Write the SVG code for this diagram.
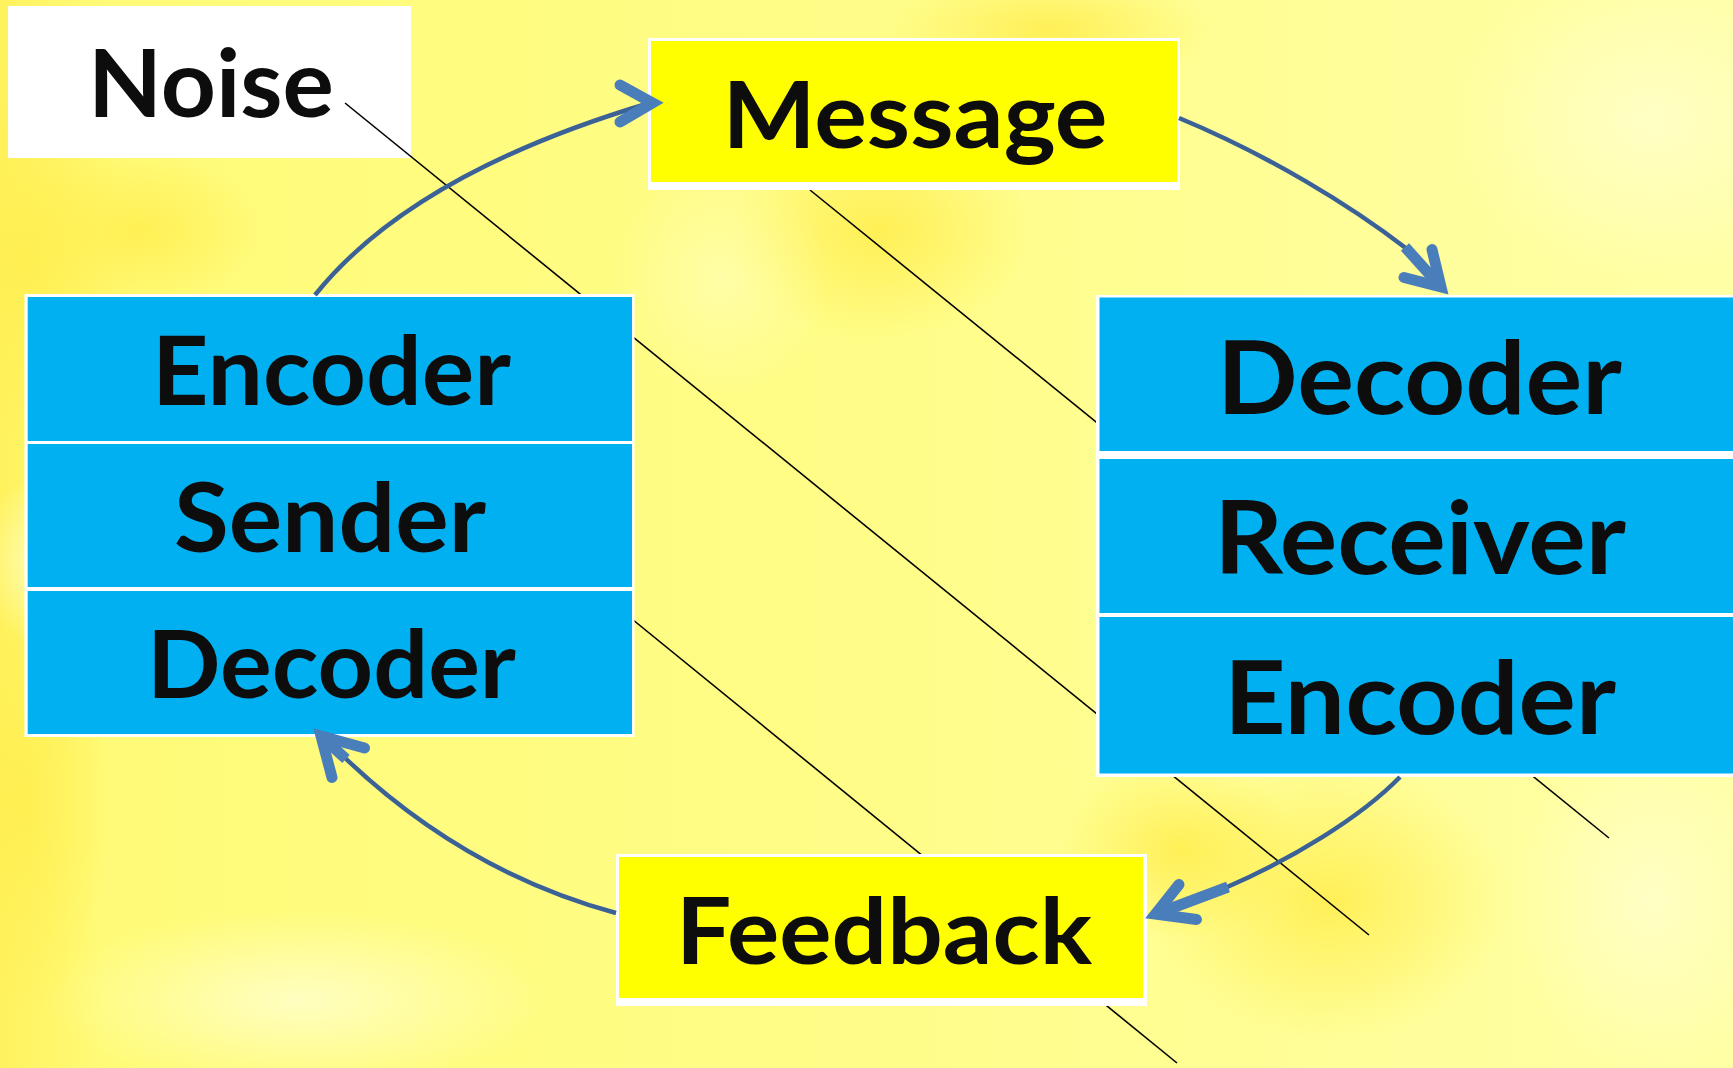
<svg xmlns="http://www.w3.org/2000/svg" width="1733" height="1068" viewBox="0 0 1733 1068">
  <defs>
    <style>
      .lbl { font-family: Lato, "Open Sans", "Liberation Sans", sans-serif; font-weight: bold; fill: #0d0d0d; text-anchor: middle; }
      .cell { fill: #00b0f0; }
      .frame { fill: #ffffff; }
      .note { fill: #ffff00; }
      .noise-line { stroke: #000000; stroke-width: 1.6; fill: none; }
      .shaft { stroke: #3b6296; stroke-width: 4.5; fill: none; }
      .head { stroke: #4a7ebb; stroke-width: 11; fill: none; stroke-linejoin: miter; stroke-miterlimit: 6; stroke-linecap: round; }
      .thick { stroke: #4a7ebb; stroke-width: 11; fill: none; stroke-linecap: butt; }
    </style>
    <radialGradient id="blobDeep" cx="0.5" cy="0.5" r="0.5">
      <stop offset="0" stop-color="#ffee50" stop-opacity="0.9"/>
      <stop offset="1" stop-color="#ffee50" stop-opacity="0"/>
    </radialGradient>
    <radialGradient id="blobPale" cx="0.5" cy="0.5" r="0.5">
      <stop offset="0" stop-color="#ffffc8" stop-opacity="0.9"/>
      <stop offset="1" stop-color="#ffffc8" stop-opacity="0"/>
    </radialGradient>
    <linearGradient id="bgBase" x1="0" y1="0" x2="1" y2="0">
      <stop offset="0" stop-color="#fff25e"/>
      <stop offset="0.06" stop-color="#fffb78"/>
      <stop offset="0.5" stop-color="#fffd88"/>
      <stop offset="1" stop-color="#ffffa6"/>
    </linearGradient>
  </defs>

  <!-- textured yellow backdrop -->
  <g id="background">
    <rect x="0" y="0" width="1733" height="1068" fill="url(#bgBase)"/>
    <ellipse cx="30" cy="260" rx="110" ry="200" fill="url(#blobDeep)"/>
    <ellipse cx="20" cy="800" rx="90" ry="220" fill="url(#blobDeep)"/>
    <ellipse cx="140" cy="230" rx="120" ry="80" fill="url(#blobDeep)"/>
    <ellipse cx="880" cy="230" rx="150" ry="110" fill="url(#blobDeep)"/>
    <ellipse cx="1050" cy="30" rx="160" ry="60" fill="url(#blobDeep)"/>
    <ellipse cx="1330" cy="900" rx="180" ry="140" fill="url(#blobDeep)"/>
    <ellipse cx="1180" cy="850" rx="120" ry="90" fill="url(#blobDeep)"/>
    <ellipse cx="1650" cy="120" rx="200" ry="160" fill="url(#blobPale)"/>
    <ellipse cx="1650" cy="900" rx="140" ry="180" fill="url(#blobPale)"/>
    <ellipse cx="720" cy="280" rx="110" ry="120" fill="url(#blobPale)" opacity="0.55"/>
    <ellipse cx="50" cy="560" rx="70" ry="90" fill="url(#blobPale)"/>
    <ellipse cx="300" cy="1000" rx="250" ry="90" fill="url(#blobPale)"/>
  </g>

  <!-- Noise label -->
  <g id="noise">
    <rect class="frame" x="8" y="6" width="403" height="152"/>
    <text class="lbl" x="211" y="117" font-size="93" textLength="246" lengthAdjust="spacingAndGlyphs">Noise</text>
  </g>

  <!-- noise interference lines -->
  <g id="connectors-noise">
    <line class="noise-line" x1="345" y1="103" x2="1369" y2="935"/>
    <line class="noise-line" x1="810" y1="190" x2="1609" y2="838"/>
    <line class="noise-line" x1="600" y1="593" x2="1177" y2="1063"/>
  </g>

  <!-- sender stack -->
  <g id="sender-stack">
    <rect class="frame" x="24.5" y="294" width="610" height="443"/>
    <rect class="cell" x="27.7" y="297" width="604.3" height="144"/>
    <rect class="cell" x="27.7" y="444" width="604.3" height="143"/>
    <rect class="cell" x="27.7" y="591" width="604.3" height="143"/>
    <text class="lbl" x="331.5" y="405" font-size="95" textLength="359" lengthAdjust="spacingAndGlyphs">Encoder</text>
    <text class="lbl" x="330" y="552" font-size="95" textLength="312" lengthAdjust="spacingAndGlyphs">Sender</text>
    <text class="lbl" x="331.5" y="698" font-size="93" textLength="369" lengthAdjust="spacingAndGlyphs">Decoder</text>
  </g>

  <!-- receiver stack -->
  <g id="receiver-stack">
    <rect class="frame" x="1096" y="295" width="660" height="482"/>
    <rect class="cell" x="1099.5" y="297.5" width="660" height="153.5"/>
    <rect class="cell" x="1099.5" y="459" width="660" height="154"/>
    <rect class="cell" x="1099.5" y="617" width="660" height="156.5"/>
    <text class="lbl" x="1419.5" y="414" font-size="102" textLength="405" lengthAdjust="spacingAndGlyphs">Decoder</text>
    <text class="lbl" x="1420" y="574" font-size="102" textLength="412" lengthAdjust="spacingAndGlyphs">Receiver</text>
    <text class="lbl" x="1420" y="734" font-size="102" textLength="392" lengthAdjust="spacingAndGlyphs">Encoder</text>
  </g>

  <!-- message -->
  <g id="message">
    <rect class="frame" x="648" y="38" width="532" height="152"/>
    <rect class="note" x="651" y="41" width="526" height="141"/>
    <text class="lbl" x="915" y="148" font-size="92" textLength="385" lengthAdjust="spacingAndGlyphs">Message</text>
  </g>

  <!-- feedback -->
  <g id="feedback">
    <rect class="frame" x="616" y="854" width="531" height="152"/>
    <rect class="note" x="619" y="857" width="524" height="141"/>
    <text class="lbl" x="884" y="964" font-size="92" textLength="416" lengthAdjust="spacingAndGlyphs">Feedback</text>
  </g>

  <!-- flow arrows -->
  <g id="connectors">
    <!-- encoder -> message -->
    <path class="shaft" d="M315,295 Q412,174 648,103.5"/>
    <polyline class="head" points="620,85 652.5,103 620,122"/>

    <!-- message -> decoder -->
    <path class="shaft" d="M1179,118 C1268,155 1350,205 1407,249"/>
    <line class="thick" x1="1405" y1="247" x2="1441" y2="287"/>
    <polyline class="head" points="1432,249.5 1441,287 1404,277.5"/>

    <!-- encoder -> feedback -->
    <path class="shaft" d="M1400,777 C1360,818 1290,860 1225,888"/>
    <line class="thick" x1="1228" y1="887" x2="1156" y2="914"/>
    <polyline class="head" points="1179,884.5 1155.5,914 1196.5,919.5"/>

    <!-- feedback -> decoder -->
    <path class="shaft" d="M616,913 Q464,872 343,756"/>
    <line class="thick" x1="346" y1="759" x2="321" y2="736"/>
    <polyline class="head" points="364.5,748 321,736 332,777.5"/>
  </g>
</svg>
